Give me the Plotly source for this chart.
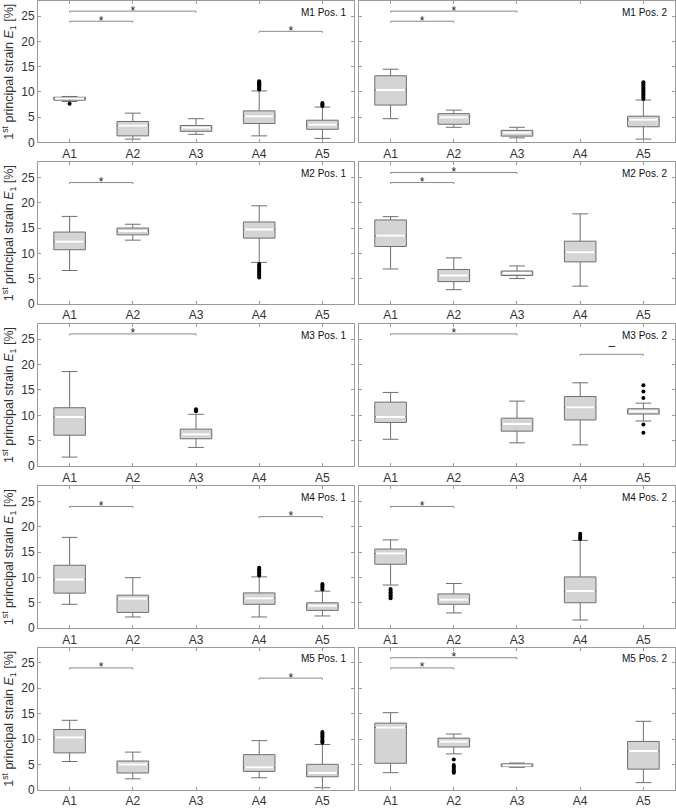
import plotly.graph_objects as go

CATEGORIES = ["A1", "A2", "A3", "A4", "A5"]
PANELS = ["M1 Pos. 1", "M1 Pos. 2", "M2 Pos. 1", "M2 Pos. 2", "M3 Pos. 1",
          "M3 Pos. 2", "M4 Pos. 1", "M4 Pos. 2", "M5 Pos. 1", "M5 Pos. 2"]
Y_TICKS = [0, 5, 10, 15, 20, 25]

# box statistics per panel, per category (A1..A5); None = no data
LOWER = [
    [8.1, 0.66, 1.6, 1.3, 0.8],
    [4.7, 3.0, 0.9, None, 0.66],
    [6.6, 12.6, None, 8.2, None],
    [6.9, 2.8, 5.0, 3.5, None],
    [1.8, None, 3.7, None, None],
    [5.3, None, 4.6, 4.2, 8.9],
    [4.7, 2.2, None, 2.2, 2.4],
    [8.5, 3.0, None, 1.6, None],
    [5.6, 2.2, None, 2.4, 0.45],
    [3.4, 7.1, 4.45, None, 1.45],
]
Q1 = [
    [8.36, 1.3, 2.2, 3.75, 2.6],
    [7.4, 3.6, 1.25, None, 3.1],
    [10.7, 13.65, None, 13.0, None],
    [11.35, 4.4, 5.6, 8.3, None],
    [6.1, None, 5.4, None, None],
    [8.6, None, 6.9, 9.1, 10.25],
    [6.9, 3.1, None, 4.7, 3.5],
    [12.6, 4.7, None, 5.0, None],
    [7.3, 3.35, None, 3.65, 2.6],
    [5.25, 8.45, 4.6, None, 4.1],
]
MEDIAN = [
    [8.7, 3.3, 2.9, 5.2, 3.5],
    [10.4, 5.0, 1.9, None, 4.5],
    [12.3, 14.4, None, 14.7, None],
    [13.45, 5.6, 6.1, 10.2, None],
    [9.7, None, 6.3, None, None],
    [9.7, None, 8.3, 11.6, 10.8],
    [9.6, 5.8, None, 5.9, 4.4],
    [14.7, 5.6, None, 7.3, None],
    [10.3, 5.0, None, 4.45, 3.35],
    [12.3, 9.55, 4.84, None, 7.65],
]
Q3 = [
    [8.95, 4.15, 3.35, 6.25, 4.4],
    [13.2, 5.7, 2.4, None, 5.2],
    [14.2, 15.0, None, 16.2, None],
    [16.6, 6.8, 6.5, 12.4, None],
    [11.5, None, 7.3, None, None],
    [12.6, None, 9.45, 13.7, 11.3],
    [12.4, 6.5, None, 6.95, 5.0],
    [15.6, 6.75, None, 10.1, None],
    [11.9, 5.7, None, 6.95, 5.05],
    [13.15, 10.2, 5.15, None, 9.55],
]
UPPER = [
    [9.1, 5.8, 4.7, 10.2, 7.0],
    [14.5, 6.4, 3.0, None, 8.4],
    [17.3, 15.75, None, 19.4, None],
    [17.25, 9.1, 7.5, 17.8, None],
    [18.6, None, 10.2, None, None],
    [14.5, None, 12.8, 16.4, 12.4],
    [17.9, 9.95, None, 10.1, 7.3],
    [17.4, 8.8, None, 17.3, None],
    [13.7, 7.45, None, 9.7, 8.95],
    [15.2, 11.0, 5.3, None, 13.5],
]
OUTLIERS = {
    "M1 Pos. 1": {"A1": [7.65],
                  "A4": [10.5, 10.7, 10.9, 11.1, 11.3, 11.5, 11.7, 11.9, 12.1],
                  "A5": [7.2, 7.4, 7.6, 7.8]},
    "M1 Pos. 2": {"A5": [8.6, 8.9, 9.2, 9.5, 9.8, 10.1, 10.4, 10.7, 11.0, 11.3, 11.6, 11.9]},
    "M2 Pos. 1": {"A4": [5.2, 5.5, 5.8, 6.1, 6.4, 6.7, 7.0, 7.3, 7.6, 7.9]},
    "M3 Pos. 1": {"A3": [10.8, 11.0, 11.2]},
    "M3 Pos. 2": {"A5": [15.9, 14.7, 13.4, 8.2, 6.6]},
    "M4 Pos. 1": {"A4": [10.4, 10.7, 11.0, 11.3, 11.6, 11.9],
                  "A5": [7.6, 7.9, 8.2, 8.5, 8.7]},
    "M4 Pos. 2": {"A1": [5.9, 6.2, 6.5, 6.8, 7.1, 7.4, 7.7],
                  "A4": [17.6, 17.9, 18.2, 18.6]},
    "M5 Pos. 1": {"A5": [9.3, 9.6, 9.9, 10.2, 10.5, 10.8, 11.1, 11.4]},
    "M5 Pos. 2": {"A2": [6.0, 4.9, 4.6, 4.3, 4.0, 3.7, 3.4]},
}
# significance brackets: (from, to, level, symbol)
BRACKETS = {
    "M1 Pos. 1": [("A1", "A2", 24, "*"), ("A1", "A3", 26, "*"), ("A4", "A5", 22, "*")],
    "M1 Pos. 2": [("A1", "A2", 24, "*"), ("A1", "A3", 26, "*")],
    "M2 Pos. 1": [("A1", "A2", 24, "*")],
    "M2 Pos. 2": [("A1", "A2", 24, "*"), ("A1", "A3", 26, "*")],
    "M3 Pos. 1": [("A1", "A3", 26, "*")],
    "M3 Pos. 2": [("A1", "A3", 26, "*"), ("A4", "A5", 22, "–")],
    "M4 Pos. 1": [("A1", "A2", 24, "*"), ("A4", "A5", 22, "*")],
    "M4 Pos. 2": [("A1", "A2", 24, "*")],
    "M5 Pos. 1": [("A1", "A2", 24, "*"), ("A4", "A5", 22, "*")],
    "M5 Pos. 2": [("A1", "A2", 24, "*"), ("A1", "A3", 26, "*")],
}

FONT = "Arial, Liberation Sans, sans-serif"
TXT = "#333333"
FRAME = "#9a9a9a"
BOX_LINE = "#6f6f6f"
BOX_FILL = "#d4d4d4"
BR_COLOR = "#8a8a8a"

X_DOMAINS = [[0.0, 0.4961], [0.5039, 1.0]]
Y_DOMAINS = [[0.8197, 0.9987], [0.6154, 0.7945], [0.4098, 0.5902],
             [0.2049, 0.3846], [0.0, 0.1803]]

pos = {c: i + 1 for i, c in enumerate(CATEGORIES)}

fig = go.Figure()
layout = {}
annotations = []

for k, name in enumerate(PANELS):
    row, col = divmod(k, 2)
    n = k + 1
    xa = "x" if n == 1 else f"x{n}"
    ya = "y" if n == 1 else f"y{n}"
    idx = [i for i in range(5) if MEDIAN[k][i] is not None]
    xs = [i + 1 for i in idx]

    fig.add_trace(go.Box(
        x=xs, q1=[Q1[k][i] for i in idx], median=[MEDIAN[k][i] for i in idx],
        q3=[Q3[k][i] for i in idx], lowerfence=[LOWER[k][i] for i in idx],
        upperfence=[UPPER[k][i] for i in idx],
        width=0.5, whiskerwidth=0.5, boxpoints=False,
        fillcolor=BOX_FILL, line=dict(color=BOX_LINE, width=1),
        xaxis=xa, yaxis=ya, showlegend=False, hoverinfo="skip"))
    med = [MEDIAN[k][i] for i in idx]
    fig.add_trace(go.Box(
        x=xs, q1=med, median=med, q3=med, lowerfence=med, upperfence=med,
        width=0.46, whiskerwidth=0, boxpoints=False,
        fillcolor="rgba(0,0,0,0)", line=dict(color="white", width=2),
        xaxis=xa, yaxis=ya, showlegend=False, hoverinfo="skip"))

    ox, oy = [], []
    for c, vals in OUTLIERS.get(name, {}).items():
        ox += [pos[c]] * len(vals)
        oy += vals
    if ox:
        fig.add_trace(go.Scatter(
            x=ox, y=oy, mode="markers",
            marker=dict(color="black", size=4),
            xaxis=xa, yaxis=ya, showlegend=False, hoverinfo="skip"))

    for a, b, lvl, sym in BRACKETS.get(name, []):
        x1, x2 = pos[a], pos[b]
        fig.add_trace(go.Scatter(
            x=[x1, x1, x2, x2], y=[lvl - 0.3, lvl, lvl, lvl - 0.3], mode="lines",
            line=dict(color=BR_COLOR, width=1),
            xaxis=xa, yaxis=ya, showlegend=False, hoverinfo="skip"))
        off = -0.1 if sym == "*" else 1.5
        fig.add_trace(go.Scatter(
            x=[(x1 + x2) / 2], y=[lvl + off], mode="text", text=[sym],
            textposition="middle center",
            textfont=dict(family=FONT, size=12, color="#222222"),
            xaxis=xa, yaxis=ya, showlegend=False, hoverinfo="skip"))

    common = dict(showline=True, linecolor=FRAME, linewidth=1, mirror="allticks",
                  ticks="inside", ticklen=3, tickcolor=FRAME, showgrid=False,
                  zeroline=False, tickfont=dict(family=FONT, size=12, color=TXT))
    xkey = "xaxis" if n == 1 else f"xaxis{n}"
    ykey = "yaxis" if n == 1 else f"yaxis{n}"
    layout[xkey] = dict(common, domain=X_DOMAINS[col], anchor=ya, range=[0.5, 5.5],
                        tickmode="array", tickvals=list(range(1, 6)),
                        ticktext=CATEGORIES)
    yd = dict(common, domain=Y_DOMAINS[row], anchor=xa, range=[0, 28],
              tickmode="array", tickvals=Y_TICKS, showticklabels=(col == 0))
    if col == 0:
        yd["title"] = dict(
            text="1<sup>st</sup> principal strain <i>E</i><sub>1</sub> [%]",
            font=dict(family=FONT, size=12.5, color=TXT), standoff=4)
    layout[ykey] = yd

    annotations.append(dict(
        text=name, xref=f"{xa} domain", yref=f"{ya} domain",
        x=0.982, y=0.92, xanchor="right", yanchor="middle", showarrow=False,
        font=dict(family=FONT, size=10, color="#111111")))

fig.update_layout(
    width=676, height=808, margin=dict(l=38, r=1, t=0, b=15),
    plot_bgcolor="white", paper_bgcolor="white", boxmode="overlay",
    annotations=annotations, **layout)

fig.write_html(
    "out.html",
    config={"displayModeBar": False},
    post_script="document.body.style.margin='0';document.body.style.overflow='hidden';")
